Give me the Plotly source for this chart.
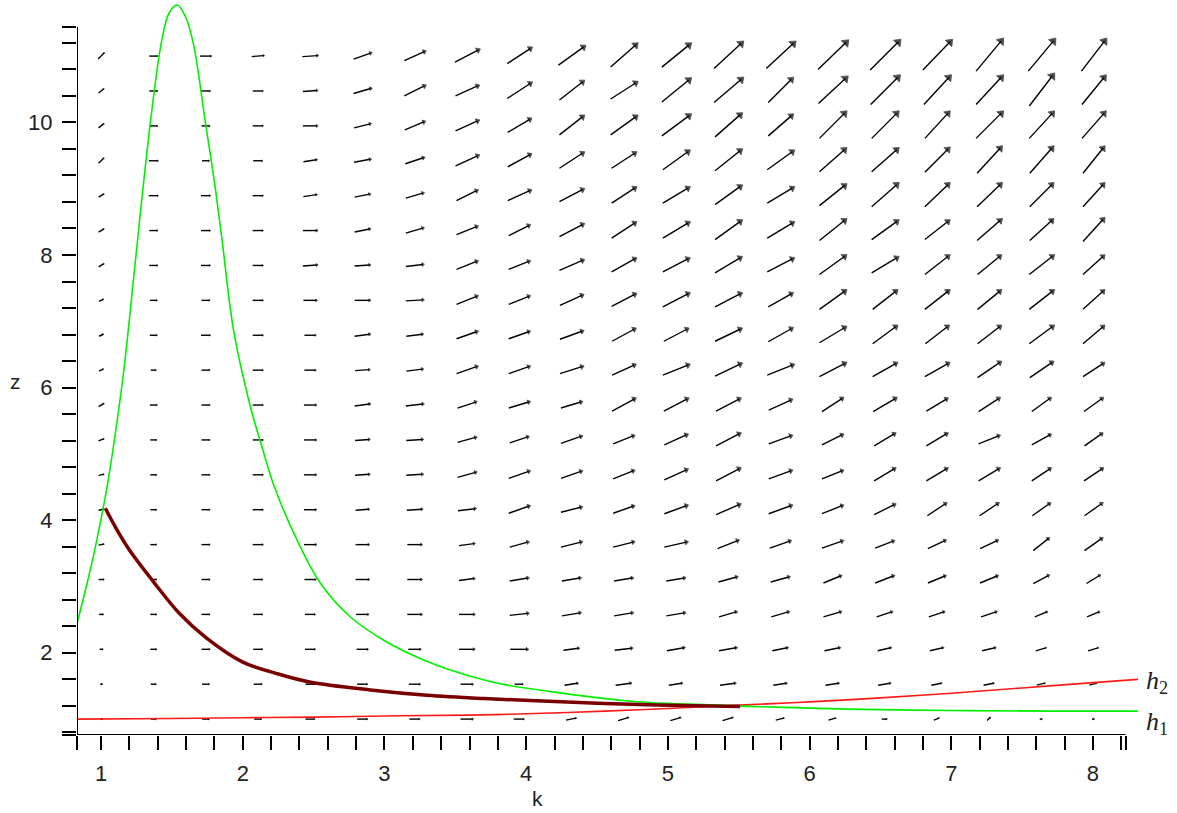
import numpy as np
import plotly.graph_objects as go

# ---------------- data ----------------
# field sample grid (20 x 20)
k_grid = np.linspace(1, 8, 20)
z_grid = np.linspace(1, 11, 20)

# field components (horizontal / vertical), rows from z=11 (top) down to z=1
field_u_rows = [
    [6, 8, 11, 12, 15, 17, 20, 23, 23, 25, 25, 27, 27, 27, 28, 28, 27, 25, 25, 23],
    [5, 8, 9, 10, 14, 17, 20, 22, 23, 23, 25, 27, 27, 23, 27, 27, 25, 25, 23, 22],
    [5, 8, 8, 10, 14, 16, 19, 22, 22, 23, 25, 27, 25, 23, 25, 25, 23, 25, 23, 22],
    [5, 9, 7, 9, 13, 16, 18, 22, 22, 23, 23, 25, 25, 25, 25, 25, 23, 23, 22, 20],
    [5, 9, 9, 10, 13, 15, 17, 20, 22, 23, 23, 25, 25, 25, 25, 25, 23, 23, 22, 20],
    [5, 8, 9, 10, 14, 15, 17, 20, 20, 23, 23, 25, 25, 25, 25, 25, 23, 23, 22, 20],
    [5, 8, 9, 10, 14, 15, 17, 20, 20, 23, 23, 25, 25, 25, 25, 25, 23, 22, 23, 20],
    [4, 7, 8, 10, 13, 15, 17, 20, 20, 22, 23, 25, 25, 23, 25, 23, 23, 22, 23, 20],
    [4, 7, 9, 10, 11, 15, 16, 20, 20, 22, 22, 23, 25, 23, 25, 23, 22, 22, 23, 20],
    [4, 5, 8, 10, 11, 14, 16, 20, 20, 22, 22, 25, 25, 25, 25, 23, 23, 22, 22, 20],
    [5, 7, 8, 10, 12, 15, 17, 18, 20, 20, 22, 23, 23, 22, 20, 22, 20, 20, 18, 18],
    [5, 6, 8, 10, 12, 14, 16, 18, 18, 20, 20, 22, 23, 22, 20, 20, 20, 20, 18, 17],
    [5, 6, 8, 10, 12, 14, 16, 18, 20, 20, 20, 22, 23, 22, 20, 20, 20, 20, 18, 18],
    [5, 6, 8, 10, 12, 13, 15, 17, 20, 20, 20, 22, 23, 22, 20, 20, 18, 18, 17, 17],
    [5, 6, 8, 10, 12, 13, 14, 15, 18, 20, 20, 22, 20, 20, 20, 18, 17, 17, 15, 17],
    [5, 6, 8, 9, 11, 13, 14, 15, 18, 18, 18, 18, 18, 18, 17, 18, 17, 17, 15, 13],
    [4, 6, 8, 9, 10, 12, 14, 15, 18, 18, 18, 18, 17, 17, 17, 15, 15, 15, 12, 12],
    [3, 6, 8, 9, 10, 11, 12, 15, 17, 15, 17, 17, 17, 15, 15, 13, 13, 13, 10, 10],
    [2, 5, 7, 8, 9, 10, 11, 12, 8, 13, 15, 13, 15, 13, 13, 12, 10, 10, 8, 7],
    [2, 5, 7, 7, 9, 10, 10, 12, 10, 10, 10, 10, 10, 8, 7, 5, 5, 3, 2, 2],
]
field_v_rows = [
    [6, 0, 0, 1, 1, 6, 9, 12, 15, 18, 22, 22, 25, 25, 27, 28, 28, 30, 30, 30],
    [4, 0, 0, 0, 1, 5, 10, 10, 15, 18, 16, 22, 23, 23, 25, 27, 27, 27, 30, 27],
    [4, 0, 0, 0, 0, 4, 8, 10, 13, 18, 18, 20, 22, 20, 25, 25, 25, 25, 25, 25],
    [5, 0, 0, 0, 2, 3, 6, 10, 12, 15, 15, 18, 20, 18, 22, 22, 23, 25, 25, 25],
    [3, 0, 0, 0, 2, 3, 5, 10, 10, 12, 15, 15, 18, 15, 20, 22, 22, 22, 22, 22],
    [3, 0, 0, 0, 0, 3, 5, 8, 10, 12, 15, 15, 18, 15, 20, 18, 18, 20, 20, 22],
    [3, 0, 0, 0, 1, 1, 2, 8, 8, 10, 13, 13, 15, 13, 18, 15, 18, 18, 18, 18],
    [2, 0, 0, 0, 0, 0, 1, 8, 8, 10, 12, 13, 13, 13, 18, 18, 18, 18, 18, 18],
    [2, 0, 0, 0, 0, 2, 2, 7, 7, 8, 12, 12, 12, 13, 15, 17, 17, 17, 17, 17],
    [2, 0, 0, 0, 0, 1, 2, 7, 7, 7, 10, 10, 12, 10, 13, 13, 13, 15, 15, 13],
    [3, 0, 0, 0, 0, 2, 2, 6, 6, 6, 12, 12, 12, 10, 13, 13, 12, 13, 13, 13],
    [2, 0, 0, 0, 0, 1, 1, 5, 6, 7, 8, 10, 12, 8, 10, 12, 12, 8, 10, 12],
    [1, 0, 0, 0, 0, 1, 1, 5, 7, 7, 8, 10, 12, 8, 8, 12, 12, 12, 12, 12],
    [1, 0, 0, 0, 0, 1, 1, 2, 7, 5, 7, 8, 10, 8, 8, 10, 12, 12, 12, 12],
    [1, 0, 0, 0, 0, 0, 0, 2, 5, 5, 5, 5, 8, 7, 7, 7, 8, 8, 12, 12],
    [0, 0, 0, 0, 0, 0, 0, 2, 3, 3, 3, 3, 5, 5, 7, 7, 7, 7, 8, 8],
    [0, 0, 0, 0, 0, 0, 0, 0, 2, 3, 3, 3, 5, 5, 5, 5, 5, 5, 5, 5],
    [0, 0, 0, 0, 0, 0, 0, 0, 0, 2, 2, 3, 3, 3, 3, 3, 3, 3, 3, 3],
    [0, 0, 0, 0, 0, 0, 0, 0, 0, 2, 2, 2, 2, 2, 2, 2, 2, 2, 2, 2],
    [0, 0, 0, 0, 0, 0, 0, 0, 0, 2, 3, 3, 3, 2, 2, 0, 2, 3, 0, 0],
]

# h1 (green) curve
h1_k = [0.83, 0.89, 0.95, 1.0, 1.05, 1.1, 1.16, 1.22, 1.277, 1.348, 1.425, 1.48, 1.536,
        1.59, 1.65, 1.736, 1.80, 1.854, 1.936, 2.054, 2.136, 2.22, 2.383, 2.548, 2.76,
        2.995, 3.277, 3.465, 3.80, 4.19, 4.74, 5.35, 5.76, 6.27, 7.0, 7.7, 8.32]
h1_z = [2.44, 2.95, 3.5, 4.02, 4.6, 5.3, 6.25, 7.45, 8.63, 10.0, 11.2, 11.65, 11.77,
        11.62, 11.2, 10.0, 9.1, 8.22, 6.85, 5.71, 5.10, 4.52, 3.70, 3.05, 2.54,
        2.19, 1.89, 1.74, 1.54, 1.41, 1.27, 1.21, 1.18, 1.15, 1.13, 1.12, 1.12]

# h2 (red) curve
h2_k = [0.83, 1.5, 2.0, 2.5, 3.1, 3.6, 4.0, 4.55, 5.0, 5.5, 6.0, 6.5, 7.0, 7.5, 8.0, 8.32]
h2_z = [1.00, 1.01, 1.02, 1.03, 1.05, 1.06, 1.08, 1.12, 1.16, 1.21, 1.26, 1.32, 1.39,
        1.47, 1.55, 1.60]

# trajectory (dark red)
traj_k = [1.03, 1.1, 1.2, 1.37, 1.55, 1.74, 2.0, 2.25, 2.47, 2.9, 3.3, 3.7, 4.03, 4.5,
          5.0, 5.51]
traj_z = [4.18, 3.9, 3.55, 3.07, 2.6, 2.23, 1.86, 1.68, 1.56, 1.44, 1.36, 1.31, 1.28,
          1.24, 1.21, 1.19]

x_tick_labels = ["1", "2", "3", "4", "5", "6", "7", "8"]
y_tick_labels = ["2", "4", "6", "8", "10"]

# ---------------- layout geometry ----------------
W, H = 1177, 813
ML, MR, MT, MB = 77, 39, 2, 78
X0, PXX = 0.83, 141.7   # axis start, pixels per unit
Y0, PXY = 0.76, 66.3
PW, PH = W - ML - MR, H - MT - MB
X1 = X0 + PW / PXX
Y1 = Y0 + PH / PXY
X_AXIS_END = 8.23
Y_AXIS_END = 11.44


def px2paper_x(px):
    return (px - ML) / PW


def px2paper_y(py):
    return (H - MB - py) / PH


# ---------------- arrows ----------------
U = np.array(field_u_rows[::-1], dtype=float)   # now rows z ascending
V = np.array(field_v_rows[::-1], dtype=float)

sx, sy, hx, hy, hang, hsize = [], [], [], [], [], []
for j, zc in enumerate(z_grid):
    for i, kc in enumerate(k_grid):
        u, v = U[j, i], V[j, i]
        dx, dy = u / PXX, v / PXY
        x0, y0 = kc - dx / 2, zc - dy / 2
        x1, y1 = kc + dx / 2, zc + dy / 2
        sx += [x0, x1, None]
        sy += [y0, y1, None]
        L = np.hypot(u, v)
        theta = np.degrees(np.arctan2(v, u))
        hx.append(x1)
        hy.append(y1)
        hang.append(90 - theta)
        hsize.append(float(np.clip(0.22 * L - 0.5, 1.5, 8)))

fig = go.Figure()
fig.add_trace(go.Scatter(x=sx, y=sy, mode="lines",
                         line=dict(color="black", width=1.4),
                         hoverinfo="skip", showlegend=False))
fig.add_trace(go.Scatter(x=hx, y=hy, mode="markers",
                         marker=dict(symbol="triangle-up", size=hsize, angle=hang,
                                     color="black", line=dict(width=0.8, color="black")),
                         hoverinfo="skip", showlegend=False))

fig.add_trace(go.Scatter(x=h2_k, y=h2_z, mode="lines", line=dict(color="#ff1a1a", width=1.6),
                         line_shape="spline", showlegend=False))
fig.add_trace(go.Scatter(x=h1_k, y=h1_z, mode="lines", line=dict(color="#00f000", width=1.6),
                         line_shape="spline", showlegend=False))
fig.add_trace(go.Scatter(x=traj_k, y=traj_z, mode="lines", line=dict(color="#7a0000", width=3.5),
                         line_shape="spline", showlegend=False))

# ticks
x_minor = [round(0.8 + 0.2 * n, 1) for n in range(38)]
x_vals = [X0] + [v for v in x_minor if X0 < v <= 8.2] + [X_AXIS_END]
x_text = []
for v in x_vals:
    if abs(v - round(v)) < 1e-9 and str(int(round(v))) in x_tick_labels:
        x_text.append(str(int(round(v))))
    else:
        x_text.append("")

y_minor = [round(0.4 * n, 1) for n in range(2, 29)]
y_vals = [Y0] + [v for v in y_minor if Y0 < v <= 11.2] + [Y_AXIS_END]
y_text = []
for v in y_vals:
    if abs(v - round(v)) < 1e-9 and str(int(round(v))) in y_tick_labels:
        y_text.append(str(int(round(v))))
    else:
        y_text.append("")

tickfont = dict(family="Liberation Sans, Arial, sans-serif", size=22, color="#222222")

fig.update_xaxes(range=[X0, X1], tickmode="array", tickvals=x_vals, ticktext=x_text,
                 ticks="outside", ticklen=14, tickwidth=2, tickcolor="black",
                 showline=False, showgrid=False, zeroline=False, tickfont=tickfont,
                 ticklabelstandoff=5, fixedrange=True)
fig.update_yaxes(range=[Y0, Y1], tickmode="array", tickvals=y_vals, ticktext=y_text,
                 ticks="outside", ticklen=14, tickwidth=2, tickcolor="black",
                 showline=False, showgrid=False, zeroline=False, tickfont=tickfont,
                 ticklabelstandoff=5, fixedrange=True)

fig.add_shape(type="line", xref="x", yref="y", x0=X0, x1=X_AXIS_END, y0=Y0, y1=Y0,
              line=dict(color="black", width=2))
fig.add_shape(type="line", xref="x", yref="y", x0=X0, x1=X0, y0=Y0, y1=Y_AXIS_END,
              line=dict(color="black", width=2))

label_font = dict(family="Liberation Sans, Arial, sans-serif", size=21, color="#222222")
fig.add_annotation(text="k", xref="paper", yref="paper", x=px2paper_x(537), y=px2paper_y(798),
                   showarrow=False, font=label_font, xanchor="center", yanchor="middle")
fig.add_annotation(text="z", xref="paper", yref="paper", x=px2paper_x(15), y=px2paper_y(381),
                   showarrow=False, font=label_font, xanchor="center", yanchor="middle")

hfont = dict(family="Liberation Serif, Times New Roman, serif", size=26, color="#222222")
fig.add_annotation(text="<i>h</i><sub>2</sub>", xref="paper", yref="paper",
                   x=px2paper_x(1144), y=px2paper_y(682), showarrow=False, font=hfont,
                   xanchor="left", yanchor="middle")
fig.add_annotation(text="<i>h</i><sub>1</sub>", xref="paper", yref="paper",
                   x=px2paper_x(1144), y=px2paper_y(723), showarrow=False, font=hfont,
                   xanchor="left", yanchor="middle")

fig.update_layout(width=W, height=H, margin=dict(l=ML, r=MR, t=MT, b=MB, autoexpand=False),
                  plot_bgcolor="white", paper_bgcolor="white", showlegend=False)

fig.write_html("out.html", config={"displayModeBar": False},
               post_script="document.body.style.margin='0';document.body.style.overflow='hidden';")
